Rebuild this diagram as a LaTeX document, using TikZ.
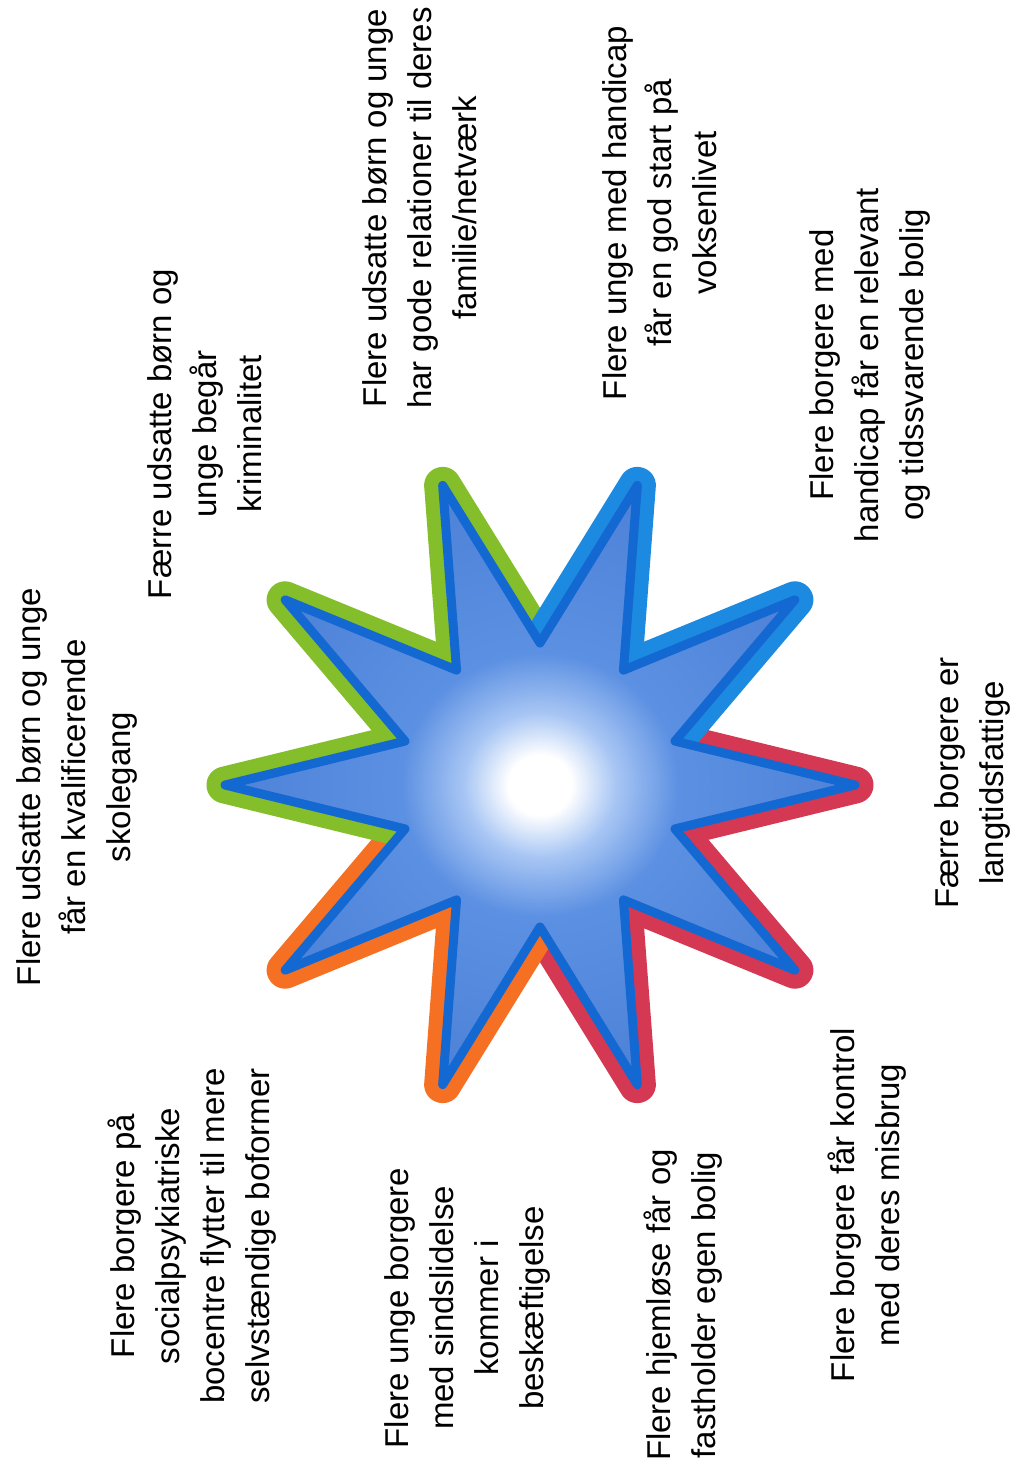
\documentclass[tikz,border=0pt]{standalone}
\usepackage{fontspec}
\setmainfont{Liberation Sans}
\definecolor{bandgreen}{RGB}{132,190,42}
\definecolor{bandblue}{RGB}{28,138,224}
\definecolor{bandred}{RGB}{212,56,82}
\definecolor{bandorange}{RGB}{246,112,36}
\definecolor{innerblue}{RGB}{20,104,210}
\definecolor{starblue}{RGB}{92,144,226}
\definecolor{starlight}{RGB}{168,198,244}
\definecolor{staredge}{RGB}{78,130,216}
\pgfdeclareradialshading{starshade}{\pgfpoint{0bp}{0bp}}{color(0bp)=(white); color(2.5bp)=(white); color(6bp)=(starlight); color(11bp)=(starblue); color(25bp)=(staredge); color(50bp)=(staredge)}
\begin{document}
\begin{tikzpicture}[x=1pt,y=-1pt,
  lbl/.style={rotate=90, align=center, font=\fontsize{33}{45}\selectfont, inner sep=0pt},
  band/.style={line width=37pt, line join=round, line cap=butt}]
\useasboundingbox (0,0) rectangle (1018,1475);
\fill[white] (0,0) rectangle (1018,1475);
\begin{scope}[shift={(540,785)}]
\foreach \i in {0,...,9}{
  \coordinate (t\i) at (\i*36:315);
  \coordinate (s\i) at (\i*36+18:142);
}
\end{scope}
\draw[band, draw=bandred] (s9) -- (t0) -- (s0) -- (t1) -- (s1) -- (t2) -- (s2);
\draw[band, draw=bandorange] (s2) -- (t3) -- (s3) -- (t4) -- (s4);
\draw[band, draw=bandgreen] (s4) -- (t5) -- (s5) -- (t6) -- (s6) -- (t7) -- (s7);
\draw[band, draw=bandblue] (s7) -- (t8) -- (s8) -- (t9) -- (s9);
\shadedraw[shading=starshade, draw=innerblue, line width=9pt, line join=round]
  (t0) -- (s0) -- (t1) -- (s1) -- (t2) -- (s2) -- (t3) -- (s3) -- (t4) -- (s4) --
  (t5) -- (s5) -- (t6) -- (s6) -- (t7) -- (s7) -- (t8) -- (s8) -- (t9) -- (s9) -- cycle;
\node[lbl] (l1) at (77,787) {Flere udsatte børn og unge\\får en kvalificerende\\skolegang};
\node[lbl] (l2) at (205,434) {Færre udsatte børn og\\unge begår\\kriminalitet};
\node[lbl] (l3) at (420,208) {Flere udsatte børn og unge\\har gode relationer til deres\\familie/netværk};
\node[lbl] (l4) at (660,213) {Flere unge med handicap\\får en god start på\\voksenlivet};
\node[lbl] (l5) at (870,365) {Flere borgere med\\handicap får en relevant\\og tidssvarende bolig};
\node[lbl] (l6) at (972,783) {Færre borgere er\\langtidsfattige};
\node[lbl] (l7) at (867,1205) {Flere borgere får kontrol\\med deres misbrug};
\node[lbl] (l8) at (683,1305) {Flere hjemløse får og\\fastholder egen bolig};
\node[lbl] (l9) at (467,1308) {Flere unge borgere\\med sindslidelse\\kommer i\\beskæftigelse};
\node[lbl] (l10) at (192,1236) {Flere borgere på\\socialpsykiatriske\\bocentre flytter til mere\\selvstændige boformer};
\end{tikzpicture}
\end{document}
